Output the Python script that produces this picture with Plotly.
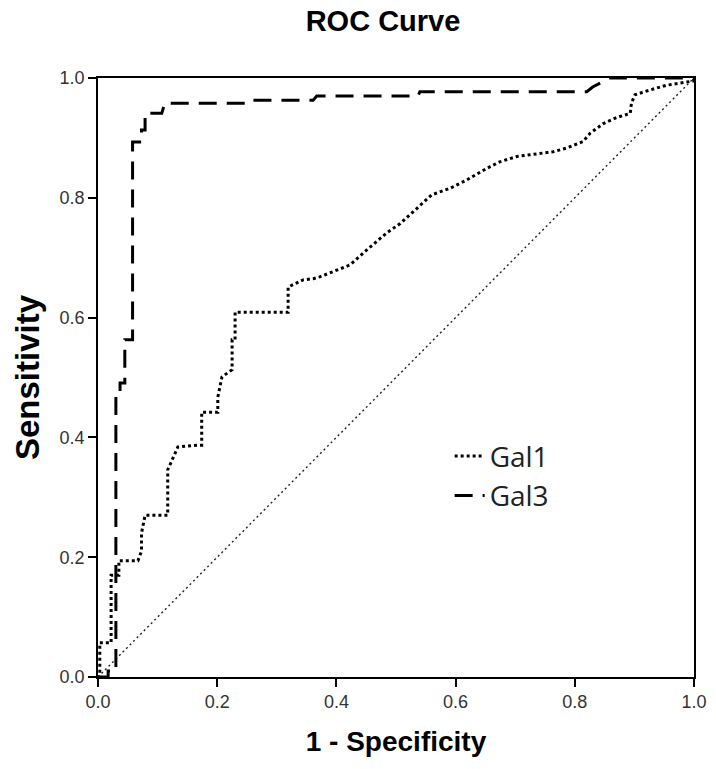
import plotly.graph_objects as go

# Gal1 ROC curve (1 - specificity, sensitivity)
gal1_fpr = [0.0, 0.003, 0.003, 0.022, 0.022, 0.035, 0.035, 0.067, 0.073, 0.073, 0.079, 0.117,
            0.117, 0.134, 0.168, 0.174, 0.174, 0.201, 0.201, 0.208, 0.225, 0.225, 0.23, 0.23,
            0.319, 0.319, 0.344, 0.361, 0.372, 0.423, 0.451, 0.484, 0.507, 0.535, 0.560,
            0.591, 0.619, 0.652, 0.674, 0.703, 0.730, 0.764, 0.786, 0.814, 0.826, 0.848,
            0.870, 0.893, 0.895, 0.901, 0.926, 0.954, 0.999, 1.0]
gal1_tpr = [0.0, 0.0, 0.057, 0.057, 0.17, 0.17, 0.194, 0.194, 0.21, 0.24, 0.27, 0.27,
            0.346, 0.384, 0.387, 0.387, 0.442, 0.442, 0.467, 0.501, 0.513, 0.563, 0.563, 0.609,
            0.609, 0.651, 0.663, 0.665, 0.668, 0.688, 0.713, 0.741, 0.757, 0.782, 0.805,
            0.816, 0.830, 0.849, 0.860, 0.869, 0.873, 0.877, 0.883, 0.894, 0.908, 0.924,
            0.934, 0.941, 0.958, 0.972, 0.980, 0.988, 0.995, 1.0]

# Gal3 ROC curve
gal3_fpr = [0.0, 0.017, 0.017, 0.03, 0.03, 0.037, 0.037, 0.045, 0.045, 0.058, 0.058, 0.073,
            0.073, 0.079, 0.079, 0.107, 0.112, 0.25, 0.255, 0.361, 0.367, 0.537, 0.54, 0.82,
            0.83, 0.846, 0.859, 1.0]
gal3_tpr = [0.0, 0.0, 0.01, 0.01, 0.477, 0.477, 0.491, 0.491, 0.563, 0.563, 0.893, 0.893,
            0.913, 0.913, 0.941, 0.941, 0.958, 0.958, 0.963, 0.963, 0.970, 0.970, 0.977, 0.977,
            0.985, 0.994, 1.0, 1.0]

# Reference line
ref_x = [0.0, 1.0]
ref_y = [0.0, 1.0]

tick_vals = [0.0, 0.2, 0.4, 0.6, 0.8, 1.0]
tick_text = ["0.0", "0.2", "0.4", "0.6", "0.8", "1.0"]

fig = go.Figure()
fig.add_trace(go.Scatter(x=ref_x, y=ref_y, mode="lines", showlegend=False,
                         line=dict(color="#222222", width=1.4, dash="2px,3px")))
fig.add_trace(go.Scatter(x=gal1_fpr, y=gal1_tpr, mode="lines", name="Gal1",
                         line=dict(color="black", width=3, dash="3px,3px")))
fig.add_trace(go.Scatter(x=gal3_fpr, y=gal3_tpr, mode="lines", name="Gal3",
                         line=dict(color="black", width=3, dash="18px,10px")))

fig.update_layout(
    width=716, height=769,
    margin=dict(l=98, r=22, t=78, b=92),
    paper_bgcolor="white", plot_bgcolor="white",
    title=dict(text="<b>ROC Curve</b>", x=383 / 716, xanchor="center",
               y=1 - 21 / 769, yanchor="middle",
               font=dict(family="Liberation Sans, Arial", size=29, color="black")),
    legend=dict(x=0.59, y=0.41, xanchor="left", yanchor="top",
                bgcolor="rgba(0,0,0,0)", tracegroupgap=0,
                font=dict(family="Open Sans, Noto Sans", size=28, color="#222222")),
    xaxis=dict(range=[0, 1], tickvals=tick_vals, ticktext=tick_text, automargin=False,
               showgrid=False, zeroline=False, showline=True, mirror=True,
               linecolor="black", linewidth=1.5, ticks="outside", ticklen=8,
               tickcolor="black", tickwidth=1.5,
               tickfont=dict(family="Liberation Sans, Arial", size=18, color="#333333"),
               title=dict(text="<b>1 - Specificity</b>", standoff=20,
                          font=dict(family="Liberation Sans, Arial", size=28, color="black"))),
    yaxis=dict(range=[0, 1], tickvals=tick_vals, ticktext=tick_text, automargin=False,
               showgrid=False, zeroline=False, showline=True, mirror=True,
               linecolor="black", linewidth=1.5, ticks="outside", ticklen=8,
               tickcolor="black", tickwidth=1.5,
               tickfont=dict(family="Liberation Sans, Arial", size=18, color="#333333"),
               title=dict(text="<b>Sensitivity</b>", standoff=10,
                          font=dict(family="Liberation Sans, Arial", size=33, color="black"))),
)

fig.write_html("out.html", config={"displayModeBar": False},
               post_script="document.body.style.margin='0px';")
